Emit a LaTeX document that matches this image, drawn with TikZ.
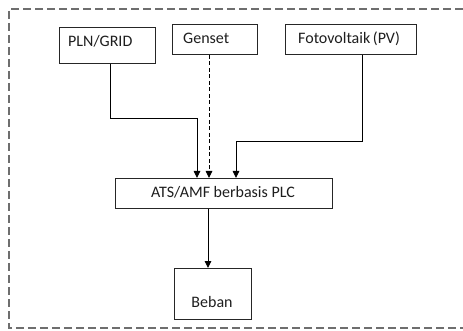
\documentclass[tikz,border=0pt]{standalone}
\usepackage{fontspec}
\setmainfont{Carlito}
\usetikzlibrary{arrows.meta}
\definecolor{txt}{RGB}{30,30,30}
\definecolor{frame}{RGB}{110,110,110}
\begin{document}
\begin{tikzpicture}[x=1pt,y=-1pt,
  box/.style={draw=black!85, line width=0.9pt, fill=white, inner sep=0pt, anchor=north west},
  lbl/.style={anchor=base west, inner sep=0pt, text=txt, font=\fontsize{16}{19}\selectfont},
  conn/.style={draw=black, line width=0.9pt},
  arr/.style={conn, -{Triangle[width=6.5pt,length=7pt]}},
  dashconn/.style={arr, dash pattern=on 4pt off 2.5pt}]
  \useasboundingbox (0,0) rectangle (463,331);
  % outer enclosure (open on the right)
  \draw[frame, line width=1.4pt, dash pattern=on 8pt off 4pt]
    (475,9) -- (9,9) -- (9,328) -- (475,328);

  % sources
  \node[box, minimum width=96pt, minimum height=36pt] (pln) at (59,27) {};
  \node[lbl] (plnt) at (68,47) {PLN/GRID};
  \node[box, minimum width=85pt, minimum height=30pt] (gen) at (172,24) {};
  \node[lbl] (gent) at (183,44) {Genset};
  \node[box, minimum width=131pt, minimum height=30pt] (pv) at (285,24) {};
  \node[lbl] (pvt) at (298,44) {Fotovoltaik\,(PV)};

  % controller and load
  \node[box, minimum width=217pt, minimum height=30pt] (ats) at (115,178) {};
  \node[lbl, anchor=base] (atst) at (223,198) {ATS/AMF berbasis PLC};
  \node[box, minimum width=77pt, minimum height=51pt] (beban) at (174,268) {};
  \node[lbl, anchor=base] (bebant) at (212,307) {Beban};

  % connectors
  \coordinate (b1) at (110,118);
  \coordinate (b2) at (362,141);
  \draw[arr] (pln.south -| b1) |- (197,118) -- (ats.north -| 197,0);
  \draw[dashconn] (gen.south -| 209,0) -- (ats.north -| 209,0);
  \draw[arr] (pv.south -| b2) |- (236,141) -- (ats.north -| 236,0);
  \draw[arr] (ats.south -| 208,0) -- (beban.north -| 208,0);
\end{tikzpicture}
\end{document}
